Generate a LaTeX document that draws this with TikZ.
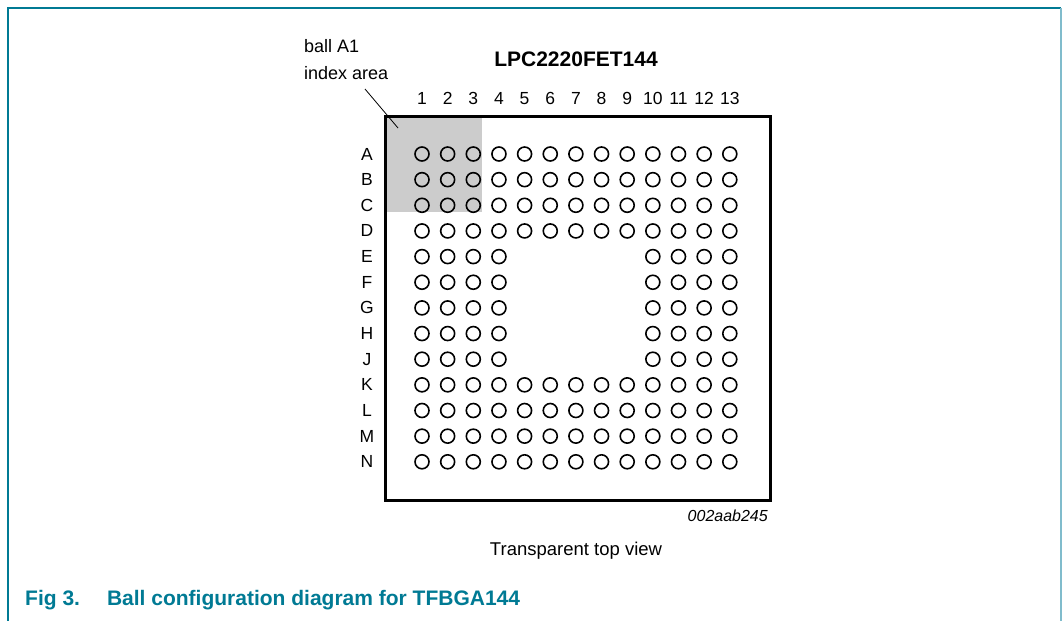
\documentclass[tikz,border=0pt]{standalone}
\usepackage{fontspec}
\setmainfont{Liberation Sans}
\definecolor{nxpteal}{RGB}{0,122,148}
\definecolor{nxplight}{RGB}{128,188,204}
\definecolor{idxgrey}{RGB}{204,204,204}
\begin{document}
\begin{tikzpicture}[x=1pt,y=-1pt,
  ball/.style={circle,draw,line width=1.6pt,minimum size=14pt,inner sep=0pt},
  lbl/.style={font=\fontsize{17.5}{22}\selectfont,inner sep=0pt},
  frameline/.style={line width=1.8pt}]
\useasboundingbox (0,0) rectangle (1063,621);
% outer frame
\draw[frameline,nxpteal] (8,621) -- (8,8) -- (1061,8);
\draw[frameline,nxplight] (1061,8) -- (1061,621);
% index area
\fill[idxgrey] (384,115) rectangle (482,212);
% package outline
\node[draw,line width=2.8pt,inner sep=0pt,minimum width=385pt,minimum height=384pt,anchor=north west] (pkg) at (384,115) {};
% balls and row labels
\foreach \r [count=\i from 0] in {A,B,C,D,E,F,G,H,J,K,L,M,N}{
  \node[lbl] (row-\r) at (367,{154+25.65*\i}) {\r};
  \foreach \c in {1,...,13}{
    \pgfmathtruncatemacro{\ballskip}{(\i>=4 && \i<=8 && \c>=5 && \c<=9) ? 1 : 0}
    \ifnum\ballskip=0
      \node[ball] (b-\r\c) at ({422+25.65*(\c-1)},{154+25.65*\i}) {};
    \fi
  }
}
% column labels
\foreach \c in {1,...,13}{
  \node[lbl,anchor=base] (col-\c) at ({422+25.65*(\c-1)},104) {\c};
}
% texts
\node[lbl,anchor=base west,align=left,font=\fontsize{18}{27}\selectfont] (a1lbl) at (304,79) {ball A1\\index area};
\coordinate (lead-a) at (365,89);
\coordinate (lead-b) at (398,128);
\draw[line width=0.8pt] (lead-a) -- (lead-b);
\node[lbl,anchor=base,font=\bfseries\fontsize{21}{25}\selectfont] (title) at (576,66) {LPC2220FET144};
\node[lbl,anchor=base east,font=\itshape\fontsize{16}{19}\selectfont] (code) at (768,521) {002aab245};
\node[lbl,anchor=base,font=\fontsize{18.5}{22}\selectfont] (view) at (576,555) {Transparent top view};
\node[inner sep=0pt,anchor=base west,text=nxpteal,font=\bfseries\fontsize{21}{25}\selectfont] (caption) at (25,605) {Fig 3.\hspace{27pt}Ball configuration diagram for TFBGA144};
\end{tikzpicture}
\end{document}
